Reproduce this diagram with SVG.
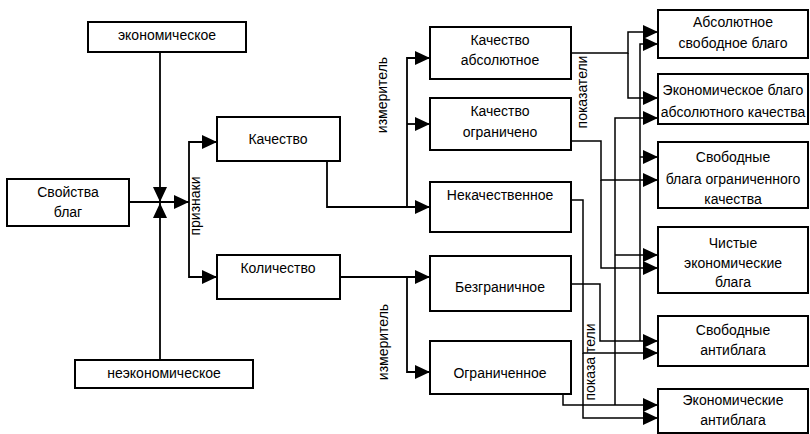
<svg xmlns="http://www.w3.org/2000/svg" width="810" height="434" viewBox="0 0 810 434">
<defs>
<marker id="ah" markerUnits="userSpaceOnUse" markerWidth="16" markerHeight="14" refX="15" refY="7" orient="auto">
<path d="M0,0 L15,7 L0,14 z" fill="#000"/>
</marker>
<style>
rect{fill:#fff;stroke:#000;stroke-width:2}
text{font-family:"Liberation Sans",Arial,sans-serif;font-size:14px;fill:#000;text-anchor:middle}
.c path{fill:none;stroke:#000;stroke-width:1.8}
.c .t{stroke-width:1.5}
.a{marker-end:url(#ah)}
</style>
</defs>
<rect x="0" y="0" width="810" height="434" style="fill:#fff;stroke:none"/>
<g class="c" id="connectors">
<path class="a" d="M160,52 V202"/>
<path class="a" d="M160,360 V203"/>
<path class="a" d="M129,202 H189"/>
<path class="a" d="M189,210 V142 H217"/>
<path class="a" d="M189,210 V277 H217"/>
<path class="a" d="M327,161 V207 H430"/>
<path class="a" d="M407,207 V58 H430"/>
<path class="a" d="M407,124 H430"/>
<path class="a" d="M340,277 H430"/>
<path class="a" d="M407,277 V372 H430"/>
<path class="a t" d="M571,53 H628 V32 H658"/>
<path class="a t" d="M628,53 V98 H658"/>
<path class="a t" d="M571,141 H601 V180 H658"/>
<path class="a t" d="M601,180 V268 H658"/>
<path class="a t" d="M571,200 H583 V353 H658"/>
<path class="a t" d="M583,353 V418 H658"/>
<path class="a t" d="M571,284 H600 V341 H658"/>
<path class="a t" d="M640,341 V44 H658"/>
<path class="a t" d="M640,157 H658"/>
<path class="a t" d="M563,394 V405 H658"/>
<path class="a t" d="M615,405 V118 H658"/>
<path class="a t" d="M615,255 H658"/>
</g>
<g id="labels">
<text transform="translate(200,206) rotate(-90)">признаки</text>
<text transform="translate(387,95) rotate(-90)">измеритель</text>
<text transform="translate(388,342) rotate(-90)">измеритель</text>
<text transform="translate(587,92) rotate(-90)">показатели</text>
<text transform="translate(595,362) rotate(-90)">показа тели</text>
</g>
<g id="n-econ"><rect x="88" y="22" width="158" height="30"/><text x="167" y="40">экономическое</text></g>
<g id="n-svoistva"><rect x="7" y="179" width="122" height="47"/><text x="68" y="197">Свойства</text><text x="68" y="217">благ</text></g>
<g id="n-neecon"><rect x="75" y="360" width="178" height="28"/><text x="164" y="378">неэкономическое</text></g>
<g id="n-kachestvo"><rect x="217" y="117" width="123" height="44"/><text x="278" y="144">Качество</text></g>
<g id="n-kolichestvo"><rect x="217" y="255" width="123" height="44"/><text x="278" y="273">Количество</text></g>
<g id="n-kach-abs"><rect x="430" y="27" width="141" height="52"/><text x="500" y="45">Качество</text><text x="500" y="65">абсолютное</text></g>
<g id="n-kach-ogr"><rect x="430" y="98" width="141" height="52"/><text x="500" y="116">Качество</text><text x="500" y="137">ограничено</text></g>
<g id="n-nekach"><rect x="430" y="182" width="141" height="50"/><text x="500" y="200">Некачественное</text></g>
<g id="n-bezgr"><rect x="430" y="256" width="141" height="55"/><text x="500" y="292">Безграничное</text></g>
<g id="n-ogr"><rect x="430" y="341" width="141" height="53"/><text x="500" y="378">Ограниченное</text></g>
<g id="n-abs-svob"><rect x="658" y="10" width="150" height="48"/><text x="733" y="27">Абсолютное</text><text x="733" y="48">свободное благо</text></g>
<g id="n-econ-abs"><rect x="658" y="74" width="150" height="50"/><text x="733" y="95">Экономическое благо</text><text x="733" y="117">абсолютного качества</text></g>
<g id="n-svob-ogr"><rect x="658" y="142" width="150" height="66"/><text x="733" y="162">Свободные</text><text x="733" y="184">блага ограниченного</text><text x="733" y="204">качества</text></g>
<g id="n-chistye"><rect x="658" y="227" width="150" height="66"/><text x="733" y="248">Чистые</text><text x="733" y="268">экономические</text><text x="733" y="287">блага</text></g>
<g id="n-svob-anti"><rect x="658" y="316" width="150" height="50"/><text x="733" y="335">Свободные</text><text x="733" y="355">антиблага</text></g>
<g id="n-econ-anti"><rect x="658" y="389" width="150" height="44"/><text x="733" y="405">Экономические</text><text x="733" y="425">антиблага</text></g>
</svg>
